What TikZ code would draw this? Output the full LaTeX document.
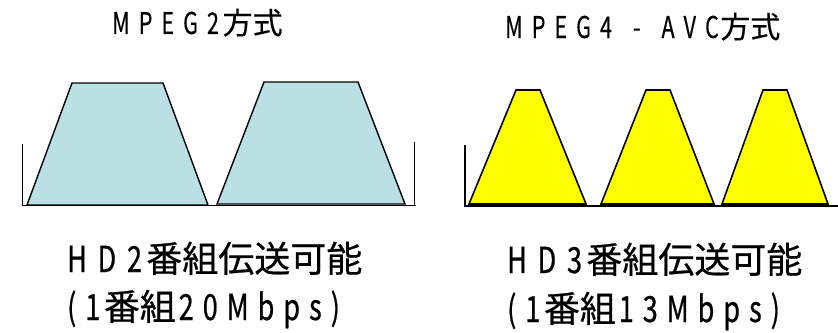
\documentclass[tikz,border=0pt]{standalone}
\usepackage{fontspec}
\newfontfamily\jp[FakeBold=0.6]{Noto Sans CJK JP}
\newfontfamily\lat[FakeStretch=0.75,FakeBold=0.6]{Noto Sans CJK JP}
\newfontfamily\tlat[FakeStretch=0.72,FakeBold=0.3]{Noto Sans CJK JP}
\newfontfamily\tjp[FakeBold=0.3]{Noto Sans CJK JP}
\newcommand\gk{\kern0.3em}
\newcommand\gs{\kern0.25em}
\newcommand\tk{\kern0.3em}
\definecolor{lblue}{HTML}{BBE0E3}
\definecolor{yel}{HTML}{FFFF00}
\begin{document}
\begin{tikzpicture}[x=1pt,y=-1pt,
  axis/.style={draw=black,line width=1pt},
  trapA/.style={draw=black,fill=lblue,line width=1.4pt,line join=miter},
  trapB/.style={draw=black,fill=yel,line width=1.6pt,line join=miter},
  ttl/.style={anchor=base west,inner sep=0pt,font=\tjp\fontsize{30}{33}\selectfont},
  btm/.style={anchor=base west,inner sep=0pt,font=\jp\fontsize{36}{40}\selectfont}]
\useasboundingbox (0,0) rectangle (838,332);
% left panel
\draw[trapA] (27,205) -- (72,83) -- (163,83) -- (208,205) -- cycle;
\draw[trapA] (217,204) -- (264,82) -- (358,82) -- (405,204) -- cycle;
\draw[axis] (22,144) -- (22,205) -- (416,205);
\draw[axis] (414,142) -- (414,205);
% right panel
\draw[trapB] (469,204) -- (516,90) -- (540,90) -- (586,204) -- cycle;
\draw[trapB] (601,204) -- (646,90) -- (670,90) -- (714,204) -- cycle;
\draw[trapB] (722,204) -- (763,90) -- (787,90) -- (828,204) -- cycle;
\draw[axis,line width=1.6pt] (465,145) -- (465,206) -- (838,206);
% titles
\node[ttl] (t1) at (112,34) {{\tlat M\tk P\tk E\tk G\tk 2}\kern0.12em 方式};
\node[ttl] (t2) at (505,38) {{\tlat M\tk P\tk E\tk G\tk 4\kern0.7em -\kern0.7em A\tk V\tk C}\kern0.05em 方式};
% bottom texts
\node[btm] (b1) at (67,272) {{\lat H\gk D\gk 2}\kern0.12em 番組伝送可能};
\node[btm] (b2) at (67,320) {{\lat (\gs 1}\kern0.1em 番組{\lat \kern0.08em 2\gs 0\gs M\gs b\gs p\gs s\gs )}};
\node[btm] (b3) at (507,273) {{\lat H\gk D\gk 3}\kern0.12em 番組伝送可能};
\node[btm] (b4) at (507,322) {{\lat (\gs 1}\kern0.1em 番組{\lat \kern0.08em 1\gs 3\gs M\gs b\gs p\gs s\gs )}};
\end{tikzpicture}
\end{document}
